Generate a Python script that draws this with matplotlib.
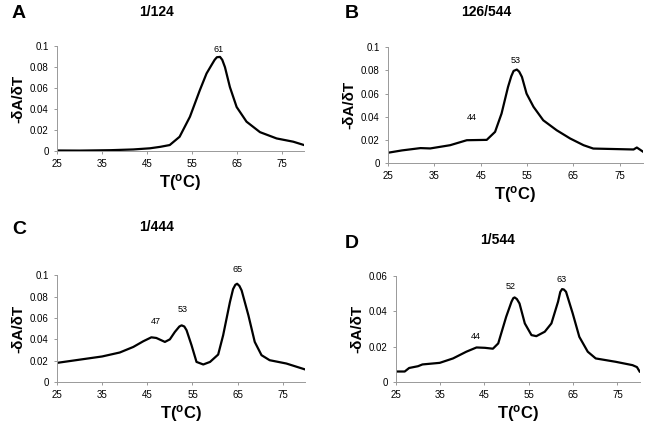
import numpy as np
import matplotlib.pyplot as plt

plt.rcParams['font.family'] = ['Liberation Sans', 'DejaVu Sans']

# Panel A: 1/124
t_a = [25, 30, 37, 42, 45.7, 48, 50.1, 52.3, 54.6, 56.8, 58.3, 59.4, 60.1, 60.6, 61.3,
       61.8, 62.4, 63.5, 65, 67.2, 70.2, 73.9, 77.6, 80]
y_a = [0.0005, 0.0004, 0.0008, 0.0015, 0.0026, 0.004, 0.0057, 0.0136, 0.0327, 0.058,
       0.074, 0.082, 0.087, 0.0895, 0.0898, 0.087, 0.080, 0.061, 0.042, 0.028, 0.018,
       0.012, 0.0089, 0.0057]

# Panel B: 126/544
t_b = [25, 28, 30, 32, 34.1, 38.4, 42, 46.3, 48.1, 49.5, 50.9, 51.6, 52.1, 52.8, 53.3,
       53.9, 54.9, 56.4, 58.5, 61.4, 64.3, 67.2, 69.3, 78, 78.7, 80]
y_b = [0.009, 0.011, 0.012, 0.013, 0.0127, 0.0155, 0.0198, 0.0201, 0.027, 0.0428, 0.0658,
       0.075, 0.0796, 0.0808, 0.079, 0.0744, 0.060, 0.0486, 0.037, 0.0284, 0.0213, 0.0155,
       0.0126, 0.0118, 0.0135, 0.010]

# Panel C: 1/444
t_c = [25, 30, 35, 38.9, 41.9, 44.1, 45.9, 47, 48.9, 50, 51.1, 52.1, 52.6, 53.2, 53.7,
       54.8, 55.9, 57.4, 58.9, 60.7, 61.8, 63.3, 64.0, 64.5, 64.9, 65.4, 65.9, 67.4, 68.8,
       70.3, 72.1, 75.8, 80]
y_c = [0.018, 0.021, 0.024, 0.0277, 0.0329, 0.0382, 0.0419, 0.0413, 0.0376, 0.040, 0.0469,
       0.052, 0.0531, 0.052, 0.0485, 0.0345, 0.0189, 0.0165, 0.0189, 0.0258, 0.0438,
       0.0748, 0.087, 0.091, 0.092, 0.090, 0.0857, 0.0624, 0.0376, 0.0252, 0.0205, 0.0174,
       0.0118]

# Panel D: 1/544
t_d = [25, 27, 28, 30, 31, 34.9, 37.9, 40.9, 43.2, 45.1, 46.9, 48.1, 49.9, 51.1, 51.5,
       51.8, 52.3, 52.9, 54.1, 55.6, 56.7, 58.6, 60.1, 61.6, 62.1, 62.5, 62.9, 63.4, 64.9,
       66.4, 68.3, 70.1, 74.6, 78.4, 79.4, 80]
y_d = [0.006, 0.006, 0.008, 0.009, 0.010, 0.0109, 0.0134, 0.0172, 0.0196, 0.0194, 0.0189,
       0.0219, 0.037, 0.0455, 0.0475, 0.0479, 0.047, 0.0445, 0.0332, 0.0266, 0.026, 0.0285,
       0.0332, 0.0455, 0.051, 0.0526, 0.0524, 0.0511, 0.0389, 0.0256, 0.0172, 0.0134,
       0.0115, 0.0096, 0.0085, 0.006]

letters = ['A', 'B', 'C', 'D']
titles = ['1/124', '126/544', '1/444', '1/544']
series = [(t_a, y_a), (t_b, y_b), (t_c, y_c), (t_d, y_d)]
y_tops = [0.1, 0.1, 0.1, 0.06]
peak_labels = [
    [(61, 0.097, '61')],
    [(52.5, 0.089, '53'), (43, 0.039, '44')],
    [(65, 0.105, '65'), (52.8, 0.068, '53'), (46.8, 0.057, '47')],
    [(51, 0.054, '52'), (62.3, 0.058, '63'), (43, 0.026, '44')],
]

# layout (figure fractions)
rects = [[0.0877, 0.6455, 0.380, 0.246], [0.597, 0.617, 0.392, 0.272],
         [0.0877, 0.103, 0.382, 0.251], [0.609, 0.103, 0.375, 0.249]]
letter_xy = [(12, 14), (345, 14), (12, 230), (345, 243)]
title_xy = [(157, 12), (486, 12), (157, 227), (498, 240)]

fig = plt.figure(figsize=(6.5, 4.26), dpi=100)

for i in range(4):
    t, y = series[i]
    ax = fig.add_axes(rects[i])
    ax.plot(t, y, color='black', lw=1.6)
    ax.set_xlim(25, 80)
    ax.set_ylim(0, y_tops[i])
    ax.set_xticks([25, 35, 45, 55, 65, 75])
    yt = np.round(np.arange(0, y_tops[i] + 1e-9, 0.02), 2)
    ax.set_yticks(yt)
    ax.set_yticklabels(['0' if v == 0 else ('%g' % v) for v in yt])
    ax.tick_params(labelsize=7, length=2, width=0.6, color='#888888', pad=4)
    for s in ['top', 'right']:
        ax.spines[s].set_visible(False)
    for s in ['left', 'bottom']:
        ax.spines[s].set_color('#999999')
        ax.spines[s].set_linewidth(0.7)
    ax.set_xlabel('T($\\mathregular{^oC}$)', fontsize=12, fontweight='bold', labelpad=2)
    ax.set_ylabel('-δA/δT', fontsize=11, fontweight='bold', labelpad=3)
    for nx, ny, txt in peak_labels[i]:
        ax.text(nx, ny, txt, fontsize=6.5, ha='center', va='center')

    lx, ly = letter_xy[i]
    fig.text(lx / 650, 1 - ly / 426, letters[i], fontsize=14, fontweight='bold',
             ha='left', va='center')
    tx, ty = title_xy[i]
    fig.text(tx / 650, 1 - ty / 426, titles[i], fontsize=10, fontweight='bold',
             ha='center', va='center')

fig.savefig('out.png', dpi=100)
